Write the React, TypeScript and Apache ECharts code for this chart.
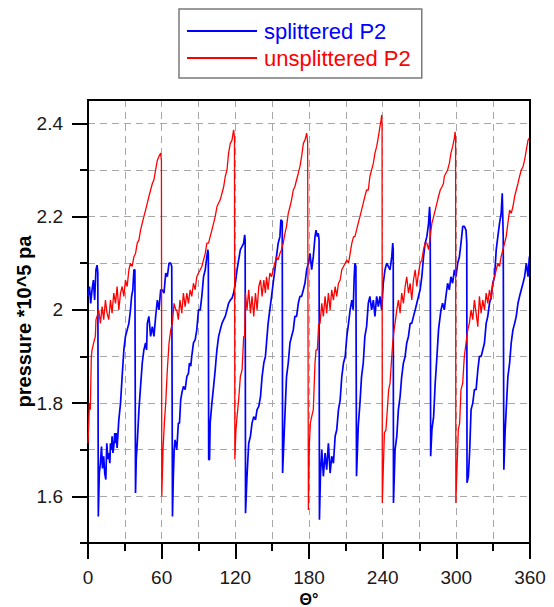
import React, { useEffect, useRef } from "react";
import * as echarts from "echarts";

const seriesNames = ["splittered P2", "unsplittered P2"];
const xTickLabels = [0, 60, 120, 180, 240, 300, 360];
const yTickLabels = [1.6, 1.8, 2.0, 2.2, 2.4];
const yMinorTicks = [1.5, 1.6, 1.7, 1.8, 1.9, 2.0, 2.1, 2.2, 2.3, 2.4];

// splittered P2 (blue)
const splitTheta = [
  0, 1.2, 2.2, 3.3, 4.4, 5.4, 6.5, 7.4, 8.0, 8.4,
  9.2, 10.1, 11.0, 11.8, 12.8, 13.6, 14.5, 15.3, 16.2, 16.9, 17.8, 18.3, 19.2, 19.6, 20.3, 21.0, 21.8, 22.4, 22.9, 23.7,
  25.1, 26.5, 27.8, 29.2, 30.5, 31.9, 33.3, 34.6, 35.5, 36.5, 37.4, 38.2, 38.7,
  39.3, 40.1, 41.5, 42.8, 44.2, 45.5, 46.9, 47.7, 48.3, 49.6, 51.0, 52.4, 53.7, 55.1, 56.5, 57.8, 59.2, 60.5, 61.9, 63.3, 64.6, 66.0, 67.4, 68.2, 68.8,
  69.5, 70.2, 70.9, 72.3, 73.6, 74.5, 75.5, 76.4, 77.7, 79.1, 80.5, 81.8, 82.6, 83.7, 84.5, 85.9, 87.3, 88.6, 90, 91.4, 92.7, 94.1, 95.5, 96.8, 97.6, 98.0, 98.3,
  99.0, 99.5, 100.9, 102.3, 103.6, 104.5, 105.0, 106.4, 107.7, 109.1, 110.5, 111.8, 113.2, 114.5, 115.9, 117.3, 118.6, 120.0, 121.4, 122.7, 124.1, 125.5, 126.8, 127.6, 128.0, 128.3,
  129.5, 130.9, 132.3, 133.6, 135.0, 136.4, 137.7, 139.1, 140.5, 141.8, 143.2, 144.5, 145.4, 146.7, 148.1, 149.5, 150.8, 152.2, 153.5, 154.9, 156.3, 157.1, 158.2, 158.5,
  159.8, 160.9, 161.7, 163.1, 164.5, 165.8, 167.2, 168.5, 169.9, 171.3, 172.6, 174.0, 175.4, 176.7, 178.1, 179.5, 180.8, 182.2, 183.5, 184.9, 185.7, 186.8, 187.6, 188.2, 188.5,
  189.3, 190.4, 191.7, 193.1, 194.4, 195.8, 197.2, 198.5, 199.9, 201.3, 202.6, 204.0, 205.4, 206.7, 208.1, 209.5, 210.8, 212.2, 213.5, 214.9, 216.0, 216.8, 217.4, 218.2, 218.7,
  220.1, 221.5, 222.8, 224.2, 225.5, 226.9, 228.3, 229.6, 231.0, 232.4, 233.7, 235.1, 236.5, 237.8, 239.2, 240.5, 241.9, 243.3, 244.6, 246.0, 247.4, 248.2, 248.6, 248.8,
  250.1, 251.5, 252.8, 254.2, 255.5, 256.9, 258.3, 259.6, 261.0, 262.4, 263.7, 265.1, 266.5, 267.8, 269.2, 270.5, 271.9, 273.3, 274.6, 276.0, 277.4, 278.2, 278.7, 279.1,
  280.1, 281.5, 282.8, 284.2, 285.5, 286.1, 287.5, 288.8, 290.2, 291.5, 292.9, 294.3, 295.6, 297.0, 298.4, 299.7, 301.1, 302.5, 303.8, 305.2, 306.5, 307.9, 308.5, 308.7,
  309.8, 310.9, 312.0, 313.4, 314.7, 316.1, 317.5, 318.8, 320.2, 321.5, 322.9, 324.3, 325.6, 327.0, 328.4, 329.7, 331.1, 332.5, 333.8, 335.2, 336.5, 337.4, 338.2, 338.7,
  339.8, 340.9, 342.0, 343.4, 344.7, 346.1, 347.5, 348.8, 350.2, 351.5, 352.9, 354.3, 355.6, 357.0, 358.4, 359.5, 360,
];
const splitPressure = [
  2.029, 2.05, 2.014, 2.043, 2.064, 2.021, 2.086, 2.096, 2.08, 1.557,
  1.65, 1.671, 1.707, 1.66, 1.686, 1.65, 1.636, 1.714, 1.68, 1.693, 1.671, 1.714, 1.7, 1.729, 1.693, 1.707, 1.736, 1.714, 1.736, 1.704,
  1.764, 1.8, 1.857, 1.914, 1.943, 1.957, 1.971, 2.0, 2.029, 2.043, 2.086, 2.086, 1.607,
  1.68, 1.714, 1.786, 1.836, 1.886, 1.914, 1.929, 1.914, 1.971, 1.986, 1.943, 1.964, 1.943, 1.986, 2.021, 2.0, 2.043, 2.043, 2.036, 2.079, 2.071, 2.1, 2.1, 2.093, 1.557,
  1.643, 1.7, 1.721, 1.7, 1.757, 1.757, 1.807, 1.821, 1.836, 1.829, 1.857, 1.864, 1.886, 1.879, 1.9, 1.929, 1.936, 1.957, 2.0, 2.0, 2.029, 2.071, 2.086, 2.114, 2.129, 2.12, 1.679,
  1.679, 1.757, 1.8, 1.836, 1.871, 1.9, 1.914, 1.943, 1.957, 1.971, 1.979, 1.986, 2.0, 2.014, 2.021, 2.025, 2.036, 2.057, 2.086, 2.107, 2.129, 2.136, 2.143, 2.161, 2.15, 1.564,
  1.643, 1.714, 1.729, 1.757, 1.771, 1.764, 1.786, 1.793, 1.814, 1.857, 1.886, 1.9, 1.929, 1.971, 2.0, 2.029, 2.057, 2.086, 2.114, 2.143, 2.157, 2.193, 2.19, 1.65,
  1.736, 1.807, 1.857, 1.886, 1.929, 1.943, 1.957, 1.986, 1.986, 2.014, 2.029, 2.029, 2.043, 2.057, 2.086, 2.1, 2.121, 2.086, 2.114, 2.157, 2.171, 2.157, 2.164, 2.15, 1.55,
  1.643, 1.7, 1.643, 1.693, 1.657, 1.714, 1.65, 1.686, 1.671, 1.729, 1.743, 1.786, 1.807, 1.857, 1.886, 1.9, 1.943, 1.971, 2.0, 2.021, 2.0, 2.07, 2.1, 2.093, 1.643,
  1.75, 1.8, 1.857, 1.886, 1.943, 1.964, 2.014, 2.029, 2.0, 2.021, 1.986, 2.029, 2.007, 2.029, 2.0, 2.057, 2.086, 2.1, 2.093, 2.086, 2.114, 2.143, 2.129, 1.586,
  1.7, 1.729, 1.786, 1.814, 1.857, 1.886, 1.9, 1.929, 1.943, 1.971, 1.971, 1.986, 2.0, 2.014, 2.029, 2.043, 2.071, 2.114, 2.143, 2.157, 2.186, 2.221, 2.2, 1.686,
  1.743, 1.771, 1.843, 1.9, 1.957, 1.971, 2.0, 2.014, 2.0, 2.029, 2.057, 2.043, 2.071, 2.057, 2.086, 2.071, 2.1, 2.114, 2.143, 2.179, 2.179, 2.171, 2.143, 1.629,
  1.643, 1.7, 1.786, 1.8, 1.829, 1.829, 1.871, 1.9, 1.9, 1.914, 1.929, 1.971, 1.986, 2.014, 2.029, 2.057, 2.071, 2.129, 2.157, 2.186, 2.207, 2.25, 2.157, 1.657,
  1.743, 1.8, 1.857, 1.886, 1.929, 1.957, 1.971, 1.986, 2.014, 2.029, 2.043, 2.057, 2.071, 2.1, 2.071, 2.114, 2.1,
];

// unsplittered P2 (red)
const unsplitTheta = [
  0, 0.5, 1.1, 1.9, 2.7, 3.3, 4.6, 6.0, 6.5, 7.4, 8.7, 10.1, 11.5, 12.8, 14.2, 15.5, 16.9, 18.3, 19.6, 21.0, 22.4, 23.7, 25.1, 26.5, 27.8, 29.2, 30.5, 31.9, 33.3, 34.6, 36.0, 37.4, 38.7, 40.1, 41.5, 42.8, 44.2, 45.5, 46.9, 48.3, 49.6, 51.0, 52.4, 53.7, 55.1, 56.5, 57.8, 59.2, 59.8, 60.1,
  61.1, 62.2, 63.3, 64.6, 66.0, 67.4, 68.7, 70.1, 71.5, 72.3, 73.6, 74.9, 76.4, 77.7, 79.1, 80.5, 81.8, 83.2, 84.5, 85.9, 87.3, 88.6, 90, 91.4, 92.7, 94.1, 95.5, 96.8, 98.2, 99.5, 100.9, 102.3, 103.6, 105.0, 106.4, 107.7, 109.1, 110.5, 111.8, 113.2, 114.5, 115.9, 117.3, 118.6, 119.3, 119.6,
  120.5, 121.4, 122.7, 124.1, 125.5, 126.8, 127.6, 128.2, 129.5, 130.9, 132.3, 133.6, 135.0, 136.4, 137.7, 139.1, 140.5, 141.8, 143.2, 144.5, 145.4, 146.7, 148.1, 149.5, 150.8, 152.2, 153.5, 154.9, 156.3, 157.6, 159.0, 160.4, 161.7, 163.1, 164.5, 165.8, 167.2, 168.5, 169.9, 171.3, 172.6, 174.0, 175.4, 176.7, 178.1, 178.9, 179.5,
  180.3, 181.1, 182.2, 183.5, 184.9, 185.7, 186.8, 187.9, 189.0, 190.4, 191.7, 193.1, 194.4, 195.8, 197.2, 198.5, 199.9, 201.3, 202.6, 204.0, 205.4, 206.7, 208.1, 209.5, 210.8, 212.2, 213.5, 214.9, 216.3, 217.4, 218.7, 220.1, 221.5, 222.8, 224.2, 225.5, 226.9, 228.3, 229.6, 231.0, 232.4, 233.7, 235.1, 236.5, 237.8, 238.7, 239.2, 239.5, 239.7,
  240.5, 241.4, 242.7, 243.8, 244.9, 246.0, 247.4, 248.2, 249.3, 250.1, 251.5, 252.8, 254.2, 255.5, 256.9, 258.3, 259.6, 261.0, 262.4, 263.7, 265.1, 266.5, 267.8, 269.2, 270.5, 271.9, 273.3, 274.6, 276.0, 277.4, 278.7, 280.1, 281.5, 282.8, 284.2, 285.5, 286.9, 288.3, 289.5, 290.2, 291.5, 292.9, 294.3, 295.6, 297.0, 298.4, 299.0, 299.4, 299.6,
  300.5, 301.6, 302.7, 303.8, 305.2, 306.5, 307.9, 309.3, 310.6, 312.0, 313.4, 314.7, 316.1, 317.5, 318.8, 320.2, 321.5, 322.9, 324.3, 325.6, 327.0, 328.4, 329.7, 331.1, 332.5, 333.8, 335.2, 336.5, 337.9, 339.3, 340.6, 342.0, 343.4, 344.7, 346.1, 347.5, 348.8, 350.2, 351.5, 352.9, 354.3, 355.6, 357.0, 358.4, 359.5, 360,
];
const unsplitPressure = [
  1.714, 1.75, 1.8, 1.786, 1.9, 1.914, 1.929, 1.943, 1.979, 1.986, 2.0, 1.971, 2.007, 1.979, 2.021, 1.993, 1.979, 2.021, 1.993, 2.036, 2.014, 2.05, 2.0, 2.036, 2.05, 2.029, 2.064, 2.05, 2.086, 2.1, 2.093, 2.114, 2.121, 2.143, 2.15, 2.171, 2.186, 2.2, 2.214, 2.229, 2.243, 2.257, 2.271, 2.279, 2.3, 2.321, 2.329, 2.336, 2.32, 1.6,
  1.7, 1.757, 1.8, 1.871, 1.929, 1.957, 1.971, 2.014, 2.0, 2.0, 1.979, 2.021, 1.993, 2.036, 2.007, 2.036, 2.014, 2.043, 2.029, 2.057, 2.043, 2.071, 2.079, 2.086, 2.093, 2.107, 2.121, 2.143, 2.143, 2.157, 2.171, 2.186, 2.2, 2.221, 2.229, 2.236, 2.25, 2.264, 2.286, 2.3, 2.336, 2.357, 2.364, 2.386, 2.37, 1.679,
  1.743, 1.771, 1.807, 1.857, 1.871, 1.943, 1.943, 2.036, 2.0, 2.043, 1.993, 2.029, 1.986, 2.036, 2.0, 2.05, 2.064, 2.029, 2.064, 2.036, 2.071, 2.043, 2.079, 2.071, 2.086, 2.1, 2.114, 2.107, 2.121, 2.129, 2.143, 2.164, 2.179, 2.207, 2.221, 2.236, 2.257, 2.264, 2.279, 2.293, 2.307, 2.329, 2.357, 2.364, 2.379, 2.36, 1.571,
  1.714, 1.757, 1.771, 1.786, 1.886, 1.914, 1.914, 1.971, 1.971, 2.014, 1.986, 2.029, 1.993, 2.036, 2.0, 2.043, 2.021, 2.05, 2.029, 2.057, 2.064, 2.086, 2.093, 2.1, 2.107, 2.1, 2.121, 2.143, 2.157, 2.157, 2.171, 2.186, 2.2, 2.214, 2.229, 2.243, 2.257, 2.257, 2.286, 2.3, 2.314, 2.336, 2.35, 2.371, 2.393, 2.407, 2.418, 2.4, 1.586,
  1.657, 1.736, 1.743, 1.786, 1.829, 1.843, 1.9, 1.929, 1.957, 1.971, 2.0, 2.021, 1.993, 2.036, 2.014, 2.05, 2.071, 2.036, 2.057, 2.021, 2.064, 2.086, 2.05, 2.079, 2.1, 2.107, 2.129, 2.143, 2.143, 2.129, 2.157, 2.186, 2.2, 2.214, 2.229, 2.243, 2.257, 2.264, 2.271, 2.286, 2.293, 2.3, 2.314, 2.336, 2.35, 2.368, 2.382, 2.37, 1.586,
  1.657, 1.743, 1.757, 1.829, 1.843, 1.9, 1.929, 1.957, 1.971, 2.0, 1.979, 2.021, 1.993, 1.964, 2.029, 1.993, 2.021, 2.0, 2.036, 2.014, 2.043, 2.021, 2.057, 2.071, 2.086, 2.1, 2.093, 2.114, 2.129, 2.143, 2.157, 2.186, 2.214, 2.207, 2.221, 2.243, 2.257, 2.271, 2.286, 2.3, 2.307, 2.321, 2.343, 2.364, 2.368, 2.371,
];

const FONT = "'Liberation Sans', Arial, Helvetica, sans-serif";

export default function App() {
  const ref = useRef<HTMLDivElement>(null);

  useEffect(() => {
    if (!ref.current) return;
    const chart = echarts.init(ref.current, null, { renderer: "svg" });
    const blue = splitTheta.map((t, i) => [t, splitPressure[i]]);
    const red = unsplitTheta.map((t, i) => [t, unsplitPressure[i]]);
    const dashed = { type: [7, 5] as any, color: "#a8a8a8", width: 1 };
    const blackLine = { color: "#000", width: 2 };

    chart.setOption({
      animation: false,
      backgroundColor: "#ffffff",
      textStyle: { fontFamily: FONT },
      legend: {
        orient: "vertical",
        left: 179,
        top: 9,
        padding: [11, 11, 9, 8],
        itemGap: 5,
        itemWidth: 70,
        itemHeight: 2,
        icon: "rect",
        borderColor: "#7a7a7a",
        borderWidth: 1.5,
        backgroundColor: "#fff",
        selectedMode: false,
        textStyle: { fontSize: 22, fontFamily: FONT, padding: [0, 0, 0, 2] },
        data: [
          { name: seriesNames[0], textStyle: { color: "#0000ff" } },
          { name: seriesNames[1], textStyle: { color: "#ff0000" } },
        ],
      },
      grid: {
        left: 88,
        right: 24,
        top: 100,
        bottom: 64,
        show: true,
        borderColor: "#000",
        borderWidth: 2,
        containLabel: false,
        outerBoundsMode: "none",
      },
      xAxis: [
        {
          type: "value",
          min: 0,
          max: 360,
          interval: 60,
          name: "Θ°",
          nameLocation: "middle",
          nameGap: 44,
          nameTextStyle: { fontSize: 16, fontWeight: "bold", color: "#000", fontFamily: FONT, lineHeight: 16 },
          axisLine: { show: true, lineStyle: blackLine },
          axisTick: { show: true, length: 16, lineStyle: blackLine },
          minorTick: { show: true, splitNumber: 2, length: 8, lineStyle: blackLine },
          axisLabel: {
            fontSize: 19,
            color: "#1a1a1a",
            margin: 25,
            fontFamily: FONT,
            formatter: (v: number) => (xTickLabels.includes(v) ? String(v) : ""),
          },
          splitLine: { show: true, lineStyle: dashed },
          minorSplitLine: { show: true, lineStyle: dashed },
        },
        {
          type: "value",
          min: 0,
          max: 360,
          position: "top",
          z: 10,
          axisLine: { show: true, onZero: false, lineStyle: blackLine },
          axisTick: { show: false },
          axisLabel: { show: false },
          splitLine: { show: false },
        },
      ],
      yAxis: [
        {
          type: "value",
          min: 1.5,
          max: 2.45,
          position: "left",
          name: "pressure *10^5 pa",
          nameLocation: "middle",
          nameGap: 54,
          nameTextStyle: { fontSize: 20, fontWeight: "bold", color: "#000", fontFamily: FONT },
          axisLine: { show: true, onZero: false, lineStyle: blackLine },
          axisTick: { show: true, length: 8, customValues: yMinorTicks, lineStyle: blackLine },
          axisLabel: { show: false, customValues: yMinorTicks },
          splitLine: { show: true, lineStyle: dashed },
        },
        {
          type: "value",
          min: 1.5,
          max: 2.45,
          position: "left",
          offset: 0,
          axisLine: { show: false, onZero: false },
          axisTick: { show: true, length: 16, customValues: yTickLabels, lineStyle: blackLine },
          axisLabel: {
            show: true,
            margin: 25,
            customValues: yTickLabels,
            fontSize: 19,
            color: "#1a1a1a",
            fontFamily: FONT,
            formatter: (v: number) => (Math.abs(v - 2) < 1e-9 ? "2" : v.toFixed(1)),
          },
          splitLine: { show: false },
        },
        {
          type: "value",
          min: 1.5,
          max: 2.45,
          position: "right",
          offset: 0,
          z: 10,
          axisLine: { show: true, onZero: false, lineStyle: blackLine },
          axisTick: { show: false },
          axisLabel: { show: false },
          splitLine: { show: false },
        },
      ],
      series: [
        {
          name: seriesNames[0],
          type: "line",
          data: blue,
          yAxisIndex: 0,
          symbol: "none",
          showSymbol: false,
          color: "#0000ff",
          lineStyle: { color: "#0000ff", width: 1.7 },
          z: 3,
        },
        {
          name: seriesNames[1],
          type: "line",
          data: red,
          yAxisIndex: 0,
          symbol: "none",
          showSymbol: false,
          color: "#ff0000",
          lineStyle: { color: "#ff0000", width: 1.3 },
          z: 4,
        },
      ],
    });
    return () => chart.dispose();
  }, []);

  return (
    <div
      ref={ref}
      style={{ position: "absolute", left: 0, top: 0, width: 554, height: 607, background: "#fff" }}
    />
  );
}
